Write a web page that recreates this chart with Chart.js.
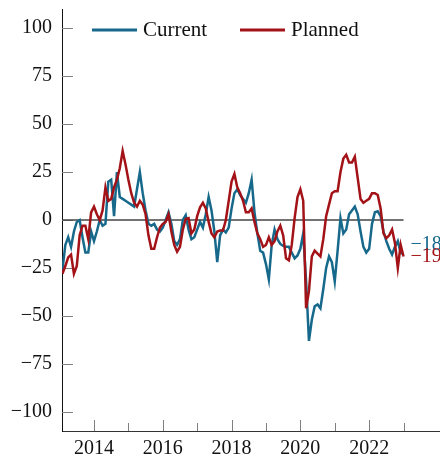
<!DOCTYPE html>
<html>
<head>
<meta charset="utf-8">
<script src="https://cdn.jsdelivr.net/npm/chart.js@4.4.0/dist/chart.umd.min.js"></script>
<style>
html,body{margin:0;padding:0;background:#fff;}
#wrap{width:440px;height:456px;position:relative;}
</style>
</head>
<body>
<div id="wrap"><canvas id="c"></canvas></div>
<script>
// Months (YYYY-MM), Feb 2013 .. Jan 2023
const months = [
 '2013-02','2013-03','2013-04','2013-05','2013-06','2013-07','2013-08','2013-09','2013-10','2013-11','2013-12','2014-01',
 '2014-02','2014-03','2014-04','2014-05','2014-06','2014-07','2014-08','2014-09','2014-10','2014-11','2014-12','2015-01',
 '2015-02','2015-03','2015-04','2015-05','2015-06','2015-07','2015-08','2015-09','2015-10','2015-11','2015-12','2016-01',
 '2016-02','2016-03','2016-04','2016-05','2016-06','2016-07','2016-08','2016-09','2016-10','2016-11','2016-12','2017-01',
 '2017-02','2017-03','2017-04','2017-05','2017-06','2017-07','2017-08','2017-09','2017-10','2017-11','2017-12','2018-01',
 '2018-02','2018-03','2018-04','2018-05','2018-06','2018-07','2018-08','2018-09','2018-10','2018-11','2018-12','2019-01',
 '2019-02','2019-03','2019-04','2019-05','2019-06','2019-07','2019-08','2019-09','2019-10','2019-11','2019-12','2020-01',
 '2020-02','2020-03','2020-04','2020-05','2020-06','2020-07','2020-08','2020-09','2020-10','2020-11','2020-12','2021-01',
 '2021-02','2021-03','2021-04','2021-05','2021-06','2021-07','2021-08','2021-09','2021-10','2021-11','2021-12','2022-01',
 '2022-02','2022-03','2022-04','2022-05','2022-06','2022-07','2022-08','2022-09','2022-10','2022-11','2022-12','2023-01'
];

const current = [
 -26,-13,-9,-14,-6,-1,0,-9,-17,-17,-6,-11,
 -6,0,-3,-2,20,21,2,25,12,11,10,9,
 8,7,16,25,14,5,-2,-3,-2,-5,-6,-4,
 0,4,-2,-11,-13,-10,0,2.5,-5,-10,-9,-5,
 -1,-4,3,12,5,-6,-22,-8,-5,-6.5,-4,6,
 14,16,13,11,9,14,21,4,-7,-16,-17,-23,
 -31,-13,-5,-10,-12.5,-13.5,-14,-14,-17,-20,-18.5,-15,
 -7,-32,-63,-52,-45,-44,-46,-36,-25,-19,-22,-32,
 -16,1,-7,-5,3,5,7,3,-6,-14,-17,-15,
 -2,4,4.5,2,-6,-11,-15,-18,-14,-11,-17,-18
];

const planned = [
 -28,-24,-19.5,-18,-28,-24,-8,-3,-3,-10,4,7,
 3,0,5,17,10,11,17,21,27,36,29,21,
 14,9,7,10,8,3,-8,-15,-15,-9,-4,-2,
 -1,3,-6,-13,-16.5,-14,-5,0.5,1,-7,-5,2,
 6.6,9,6,-1,-7,-9,-6,-5.5,-5.5,0,10,20,
 24,17,14,10,4,4,6,-1,-7,-10,-14,-13,
 -9,-13,-11,-6,-3,-8,-20,-21,-13,1,12,16,
 10,-46,-37,-19,-16,-17.5,-19,-10,2,8,14,15,
 15,25,32,34,30,30,33,22,11,9,10,11,
 14,14,13,6,-7,-9.5,-8,-5,-12,-25,-13,-19
];

const seriesNames = ['Current','Planned'];
const seriesColors = ['#17698c','#a31217'];

const xTickValues = [2014,2015,2016,2017,2018,2019,2020,2021,2022,2023];
const xTickLabels = ['2014','','2016','','2018','','2020','','2022',''];
const yTickValues = [-100,-75,-50,-25,0,25,50,75,100];
const yTickLabels = ['\u2212100','\u221275','\u221250','\u221225','0','25','50','75','100'];

const FONT = "'Liberation Serif', 'DejaVu Serif', serif";

const xs = months.map(m => { const [y, mo] = m.split('-').map(Number); return y + (mo - 1) / 12; });
const toPts = arr => arr.map((v, i) => ({x: xs[i], y: v}));

const decor = {
  id: 'decor',
  beforeDatasetsDraw(chart) {
    const ctx = chart.ctx, a = chart.chartArea, sx = chart.scales.x, sy = chart.scales.y;
    ctx.save();
    ctx.strokeStyle = '#808080';
    ctx.lineWidth = 1;
    yTickValues.forEach(v => {
      const y = Math.round(sy.getPixelForValue(v)) + 0.5;
      ctx.beginPath(); ctx.moveTo(a.left, y); ctx.lineTo(a.left + 11, y); ctx.stroke();
    });
    xTickValues.forEach((v, i) => {
      const x = Math.round(sx.getPixelForValue(v)) + 0.5;
      const len = xTickLabels[i] ? 11 : 8;
      ctx.beginPath(); ctx.moveTo(x, a.bottom); ctx.lineTo(x, a.bottom - len); ctx.stroke();
    });
    ctx.restore();
  },
  afterDatasetsDraw(chart) {
    const ctx = chart.ctx, a = chart.chartArea;
    ctx.save();
    // legend
    const legendX = [a.left + 30, a.left + 178];
    ctx.font = "21px " + FONT;
    ctx.textBaseline = 'alphabetic';
    seriesNames.forEach((n, i) => {
      ctx.strokeStyle = seriesColors[i];
      ctx.lineWidth = 3;
      ctx.beginPath(); ctx.moveTo(legendX[i], 30); ctx.lineTo(legendX[i] + 45, 30); ctx.stroke();
      ctx.fillStyle = '#111';
      ctx.fillText(n, legendX[i] + 51, 36);
    });
    // end labels
    ctx.font = "20px " + FONT;
    const sx = chart.scales.x;
    const lastX = sx.getPixelForValue(xs[xs.length - 1]);
    const ends = [current[current.length - 1], planned[planned.length - 1]];
    const baselines = [250, 262];
    ends.forEach((v, i) => {
      ctx.fillStyle = seriesColors[i];
      const t = (v < 0 ? '\u2212' : '') + Math.abs(Math.round(v));
      ctx.fillText(t, lastX + 7, baselines[i]);
    });
    ctx.restore();
  }
};

new Chart(document.getElementById('c'), {
  type: 'line',
  data: {
    datasets: [
      {label: seriesNames[0], data: toPts(current), borderColor: seriesColors[0], borderWidth: 2.5, pointRadius: 0, tension: 0, order: 1},
      {label: seriesNames[1], data: toPts(planned), borderColor: seriesColors[1], borderWidth: 2.5, pointRadius: 0, tension: 0, order: 0},
      {label: 'zero', data: [{x: xs[0], y: 0}, {x: xs[xs.length - 1], y: 0}], borderColor: '#444', borderWidth: 1.5, pointRadius: 0, order: 2}
    ]
  },
  options: {
    responsive: true,
    maintainAspectRatio: false,
    animation: false,
    layout: {padding: {top: 9, right: 0, left: 0, bottom: 0}},
    plugins: {legend: {display: false}, tooltip: {enabled: false}},
    scales: {
      x: {
        type: 'linear',
        min: 2013.07,
        max: 2024.06,
        afterBuildTicks: s => { s.ticks = xTickValues.map(v => ({value: v})); },
        afterFit: s => { s.height = 25; s.paddingLeft = 0; s.paddingRight = 0; },
        grid: {display: false, drawTicks: false},
        border: {display: true, color: '#333', width: 1},
        ticks: {
          autoSkip: false, maxRotation: 0, padding: 6, color: '#111',
          font: {family: FONT, size: 20},
          callback: (v) => { const i = xTickValues.indexOf(v); return i >= 0 ? xTickLabels[i] : ''; }
        }
      },
      y: {
        min: -110,
        max: 110,
        afterBuildTicks: s => { s.ticks = yTickValues.map(v => ({value: v})); },
        afterFit: s => { s.width = 62; s.paddingTop = 0; s.paddingBottom = 0; },
        grid: {display: false, drawTicks: false},
        border: {display: true, color: '#111', width: 1},
        ticks: {
          padding: 10, color: '#111',
          font: {family: FONT, size: 20},
          callback: (v) => { const i = yTickValues.indexOf(v); return i >= 0 ? yTickLabels[i] : ''; }
        }
      }
    }
  },
  plugins: [decor]
});
</script>
</body>
</html>
